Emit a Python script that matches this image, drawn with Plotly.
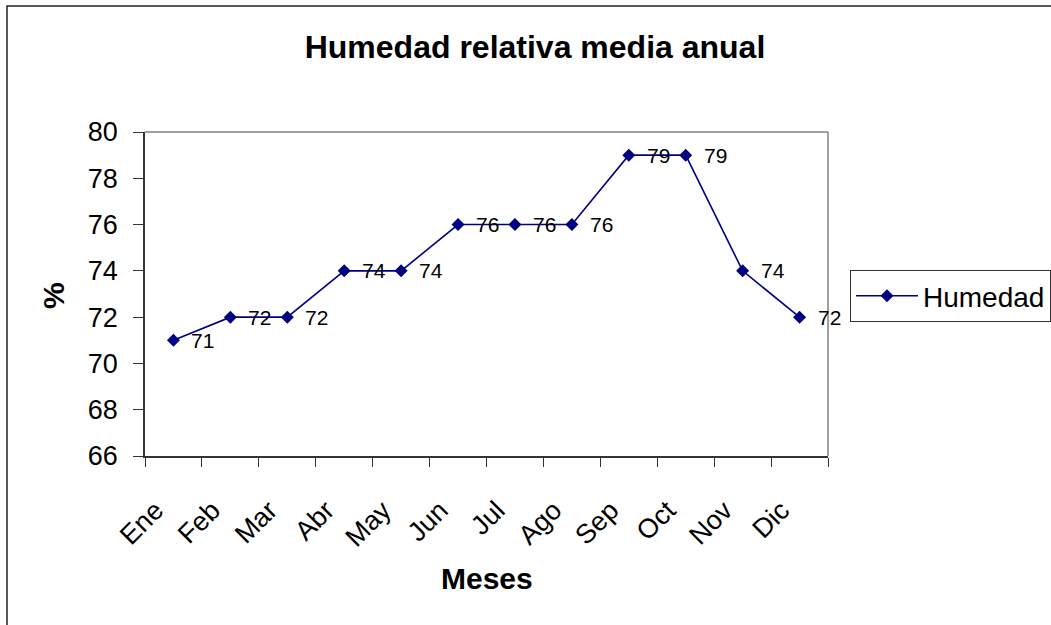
import plotly.graph_objects as go

# Monthly relative humidity (%)
meses = ["Ene", "Feb", "Mar", "Abr", "May", "Jun", "Jul", "Ago", "Sep", "Oct", "Nov", "Dic"]
humedad = [71, 72, 72, 74, 74, 76, 76, 76, 79, 79, 74, 72]
y_ticks = [66, 68, 70, 72, 74, 76, 78, 80]

FONT = "Liberation Sans, Arial, sans-serif"
NAVY = "#000080"

W, H = 1051, 625
L, R, T, B = 145, 828, 132, 456  # plot area in pixels


def px_x(x):
    return (x - L) / (R - L)


def px_y(y):
    return (B - y) / (B - T)


fig = go.Figure()
fig.add_trace(go.Scatter(
    x=meses, y=humedad, name="Humedad",
    mode="lines+markers",
    line=dict(color=NAVY, width=1.6),
    marker=dict(symbol="diamond", size=10, color=NAVY),
    cliponaxis=False,
))

# value labels to the right of each point
value_labels = [
    dict(x=m, y=v, xref="x", yref="y", text=str(v), showarrow=False,
         xanchor="left", yanchor="middle", xshift=16,
         font=dict(family=FONT, size=21, color="black"))
    for m, v in zip(meses, humedad)
]

fig.update_layout(
    width=W, height=H,
    margin=dict(l=L, r=W - R, t=T, b=H - B, pad=0, autoexpand=False),
    paper_bgcolor="white", plot_bgcolor="white",
    font=dict(family=FONT, color="black"),
    showlegend=True,
    title=dict(text="<b>Humedad relativa media anual</b>",
               font=dict(family=FONT, size=32, color="black"),
               xref="container", x=535 / W, xanchor="center",
               yref="container", y=1 - 47 / H, yanchor="middle"),
    legend=dict(x=px_x(850), y=px_y(270), xanchor="left", yanchor="top",
                bordercolor="#333333", borderwidth=1, bgcolor="white",
                font=dict(family=FONT, size=28, color="black"),
                itemwidth=62),
    xaxis=dict(
        type="category", range=[-0.5, 11.5],
        showgrid=False, zeroline=False,
        showline=True, linecolor="#333333", linewidth=1.5,
        ticks="outside", ticklen=9, tickcolor="#333333", tickwidth=1,
        tickson="boundaries", tickangle=-45,
        ticklabelstandoff=26, ticklabelshift=-18,
        tickfont=dict(family=FONT, size=27, color="black"),
    ),
    yaxis=dict(
        range=[66, 80], tickvals=y_ticks,
        showgrid=False, zeroline=False,
        showline=True, linecolor="#333333", linewidth=1.5,
        ticks="outside", ticklen=10, tickcolor="#333333", tickwidth=1,
        ticklabelstandoff=10,
        tickfont=dict(family=FONT, size=27, color="black"),
    ),
    shapes=[
        # gray frame around the plot area (top and right sides)
        dict(type="line", xref="paper", yref="paper", x0=0, x1=1, y0=1, y1=1,
             line=dict(color="#808080", width=1.5)),
        dict(type="line", xref="paper", yref="paper", x0=1, x1=1, y0=0, y1=1,
             line=dict(color="#808080", width=1.5)),
        # chart border
        dict(type="rect", xref="paper", yref="paper",
             x0=px_x(7), x1=px_x(W + 20), y0=px_y(H + 20), y1=px_y(6),
             line=dict(color="#222222", width=1.5), layer="below"),
    ],
    annotations=value_labels + [
        dict(text="<b>%</b>", xref="paper", yref="paper",
             x=px_x(53), y=px_y(296), xanchor="center", yanchor="middle",
             textangle=-90, showarrow=False,
             font=dict(family=FONT, size=30, color="black")),
        dict(text="<b>Meses</b>", xref="paper", yref="paper",
             x=px_x(487), y=px_y(578), xanchor="center", yanchor="middle",
             showarrow=False,
             font=dict(family=FONT, size=30, color="black")),
    ],
)

fig.write_html("out.html")
